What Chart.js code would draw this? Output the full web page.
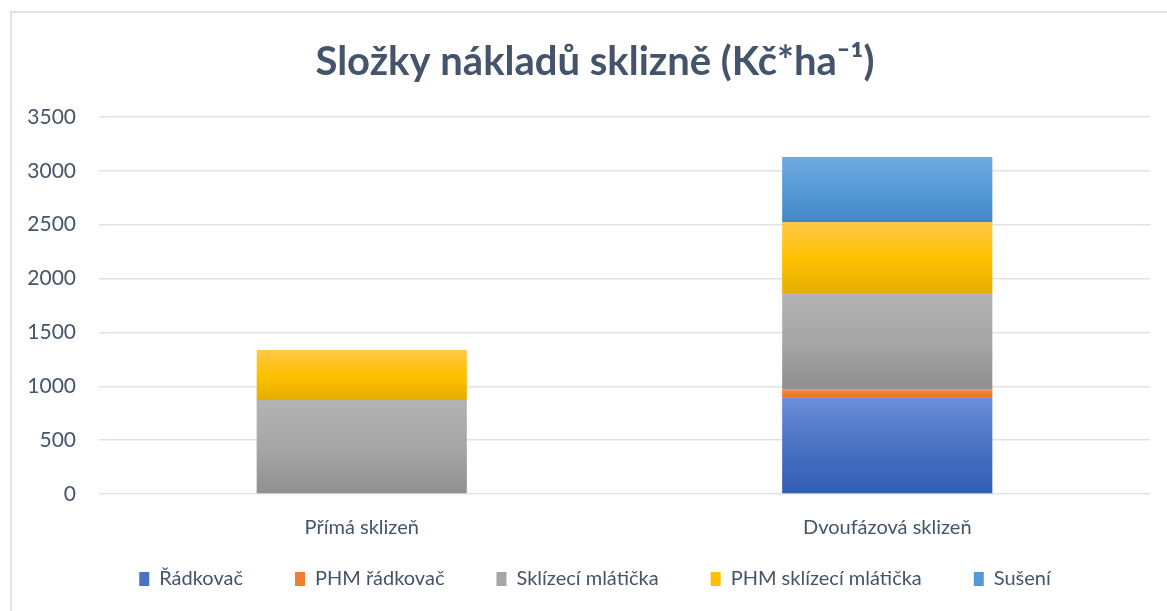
<!DOCTYPE html>
<html>
<head>
<meta charset="utf-8">
<script src="https://cdn.jsdelivr.net/npm/chart.js@4/dist/chart.umd.min.js"></script>
<style>
  html, body { margin: 0; padding: 0; background: #fff; }
  #wrap { width: 1167px; height: 611px; position: relative; }
</style>
</head>
<body>
<div id="wrap"><canvas id="chart" width="1167" height="611"></canvas></div>
<script>
const categories = ['Přímá sklizeň', 'Dvoufázová sklizeň'];
const seriesNames = ['Řádkovač', 'PHM řádkovač', 'Sklízecí mlátička', 'PHM sklízecí mlátička', 'Sušení'];
const radkovac = [0, 894];
const phmRadkovac = [0, 81];
const sklizeciMlaticka = [873, 891];
const phmSklizeciMlaticka = [464, 659];
const suseni = [0, 604];
const yTicks = [0, 500, 1000, 1500, 2000, 2500, 3000, 3500];

const seriesValues = [radkovac, phmRadkovac, sklizeciMlaticka, phmSklizeciMlaticka, suseni];

// top / middle / bottom of each Excel-style gradient
const gradients = [
  ['#6b8ed6', '#4a72c4', '#2f5db3'],
  ['#f5955c', '#ef7d32', '#e56a19'],
  ['#b3b3b3', '#a6a6a6', '#8f8f8f'],
  ['#ffc84a', '#ffc000', '#e4af00'],
  ['#70aadf', '#579ad8', '#4288c7']
];

const textColor = '#44546a';
const font = 'Lato, "Open Sans", sans-serif';

function segmentFill(ctx) {
  const chart = ctx.chart;
  const s = ctx.datasetIndex;
  const colors = gradients[s];
  if (ctx.type !== 'data' || !chart.chartArea || !chart.scales.y) return colors[1];
  const i = ctx.dataIndex;
  let start = 0;
  for (let k = 0; k < s; k++) start += seriesValues[k][i];
  const end = start + seriesValues[s][i];
  const y = chart.scales.y;
  const top = y.getPixelForValue(end);
  const bottom = y.getPixelForValue(start);
  if (!isFinite(top) || !isFinite(bottom) || top === bottom) return colors[1];
  const g = chart.ctx.createLinearGradient(0, top, 0, bottom);
  g.addColorStop(0, colors[0]);
  g.addColorStop(0.5, colors[1]);
  g.addColorStop(1, colors[2]);
  return g;
}

const frame = {
  id: 'frame',
  beforeDraw(chart) {
    const c = chart.ctx;
    c.save();
    c.strokeStyle = '#dde2ea';
    c.lineWidth = 2;
    c.beginPath();
    c.moveTo(11, 611);
    c.lineTo(11, 12);
    c.lineTo(1167, 12);
    c.stroke();
    c.restore();
  }
};

new Chart(document.getElementById('chart'), {
  type: 'bar',
  data: {
    labels: categories,
    datasets: seriesNames.map((name, s) => ({
      label: name,
      data: seriesValues[s],
      backgroundColor: segmentFill,
      borderWidth: 0,
      categoryPercentage: 1,
      barPercentage: 0.4
    }))
  },
  options: {
    responsive: false,
    animation: false,
    devicePixelRatio: 1,
    layout: { padding: { left: 40, right: 17, top: 0, bottom: 12 } },
    plugins: {
      title: {
        display: true,
        text: 'Složky nákladů sklizně (Kč*ha⁻¹)',
        color: textColor,
        font: { family: font, size: 40, weight: 'bold' },
        padding: { top: 38, bottom: 31 }
      },
      legend: {
        position: 'bottom',
        labels: {
          color: textColor,
          font: { family: font, size: 20 },
          boxWidth: 10,
          boxHeight: 14,
          padding: 52,
          generateLabels(chart) {
            return seriesNames.map((name, s) => ({
              text: name,
              fillStyle: gradients[s][1],
              strokeStyle: gradients[s][1],
              lineWidth: 0,
              fontColor: textColor,
              datasetIndex: s
            }));
          }
        }
      },
      tooltip: { enabled: false }
    },
    scales: {
      x: {
        stacked: true,
        grid: { display: false },
        border: { display: false },
        ticks: { color: textColor, font: { family: font, size: 20 }, padding: 14 },
        afterFit(scale) {
          // labels hang below the short axis box, so don't clip them to it
          scale.height = 23;
          scale._computeLabelArea = () => null;
        }
      },
      y: {
        stacked: true,
        min: 0,
        max: 3500,
        afterBuildTicks(scale) { scale.ticks = yTicks.map(v => ({ value: v })); },
        grid: { color: '#dfe3e9', lineWidth: 1.5, drawTicks: false },
        border: { display: false },
        ticks: {
          color: textColor,
          font: { family: font, size: 21 },
          padding: 23,
          callback: v => String(v)
        },
        afterFit(scale) {
          scale.width = 59;
          scale._computeLabelArea = () => null;
        }
      }
    }
  },
  plugins: [frame]
});
</script>
</body>
</html>
